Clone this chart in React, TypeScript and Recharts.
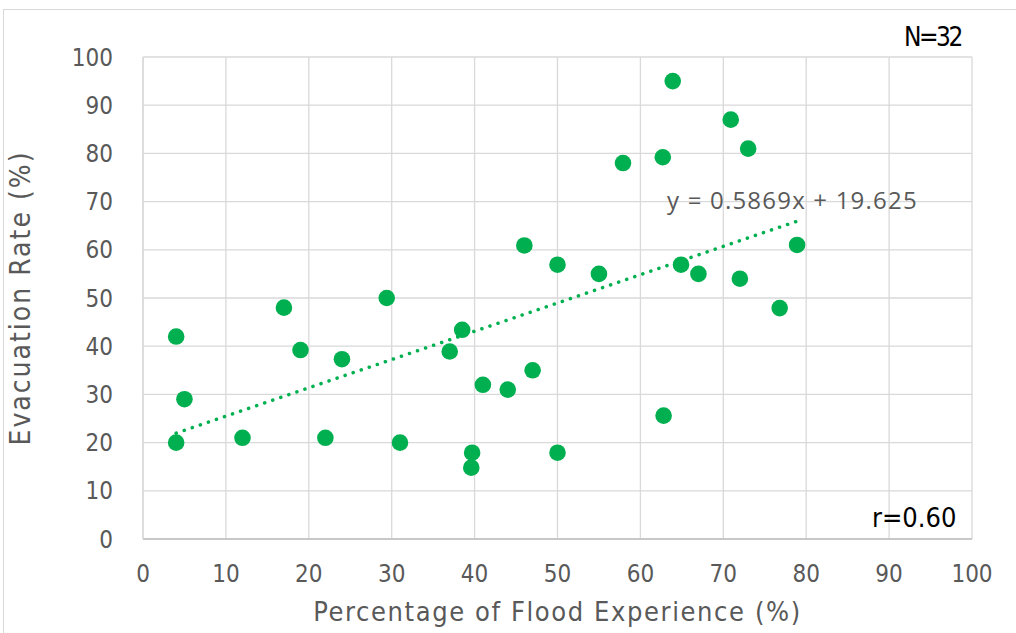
import { ReferenceLine, Scatter, ScatterChart, CartesianGrid, XAxis, YAxis } from "recharts"

// flood experience (%) vs evacuation rate (%) for each of the 32 areas
const floodExperience = [
  4, 5, 4, 12, 17, 19, 24, 22, 29.4, 31, 37, 38.5, 39.7, 39.6, 41, 44,
  47, 46, 50, 50, 55, 57.9, 62.7, 63.9, 62.8, 64.9, 67, 70.9, 72, 73, 76.8, 78.9,
]
const evacuationRate = [
  42, 29, 20, 21, 48, 39.2, 37.3, 21, 50, 20, 38.9, 43.4, 17.9, 14.8, 32, 31,
  35, 60.9, 56.9, 17.9, 55, 78, 79.2, 95, 25.6, 56.9, 55, 87, 54, 81, 47.9, 61,
]
const ticks = [0, 10, 20, 30, 40, 50, 60, 70, 80, 90, 100]

// trendline as reported on the chart
const slope = 0.5869
const intercept = 19.625
const trendRange = [4, 79]

const points = floodExperience.map((x, i) => ({ x, y: evacuationRate[i] }))
const trend = trendRange.map((x) => ({ x, y: slope * x + intercept }))

const green = "#00b050"
const textGray = "#595959"
const thinFont = "'DejaVu Sans Condensed', 'Roboto', sans-serif"

function Dot(props: any) {
  const { cx, cy } = props
  if (cx == null || cy == null) return null
  return <circle cx={cx} cy={cy} r={8.3} fill={green} />
}

export default function App() {
  return (
    <div style={{ position: "absolute", left: 0, top: 0, width: 1016, height: 633, background: "#fff", overflow: "hidden" }}>
      <div style={{ position: "absolute", left: 3, top: 9, width: 1030, height: 640, border: "1px solid #d9d9d9" }} />
      <ScatterChart
        width={1016}
        height={633}
        margin={{ top: 57, right: 44, left: 0, bottom: 0 }}
        style={{ position: "absolute", left: 0, top: 0 }}
      >
        <CartesianGrid stroke="#d9d9d9" strokeWidth={1.3} />
        <XAxis
          type="number"
          dataKey="x"
          domain={[0, 100]}
          ticks={ticks}
          height={94}
          tickLine={false}
          tickSize={0}
          tickMargin={26}
          axisLine={{ stroke: "#bfbfbf", strokeWidth: 1.5 }}
          tick={{ fill: textGray, fontSize: 24, fontFamily: thinFont }}
          label={{
            value: "Percentage of Flood Experience (%)",
            position: "insideBottom",
            offset: 12,
            fill: textGray,
            fontSize: 27,
            fontFamily: thinFont,
            letterSpacing: 1.6,
          }}
        />
        <YAxis
          type="number"
          dataKey="y"
          domain={[0, 100]}
          ticks={ticks}
          width={143}
          tickLine={false}
          tickSize={0}
          tickMargin={30}
          axisLine={{ stroke: "#d9d9d9", strokeWidth: 1.3 }}
          tick={{ fill: textGray, fontSize: 24, fontFamily: thinFont }}
          label={{
            value: "Evacuation Rate (%)",
            angle: -90,
            position: "insideLeft",
            offset: 20,
            fill: textGray,
            fontSize: 28,
            fontFamily: thinFont,
            letterSpacing: 2,
            style: { textAnchor: "middle" },
          }}
        />
        <ReferenceLine
          segment={trend}
          stroke={green}
          strokeWidth={3.5}
          strokeDasharray="0.1 8.4"
          strokeLinecap="round"
        />
        <Scatter data={points} fill={green} shape={<Dot />} isAnimationActive={false} />
      </ScatterChart>
      <div style={{ position: "absolute", left: 667, top: 183, fontSize: 24, letterSpacing: 1.2, color: textGray, fontFamily: "'Open Sans', 'Noto Sans', sans-serif", whiteSpace: "nowrap" }}>
        y = 0.5869x + 19.625
      </div>
      <div style={{ position: "absolute", left: 904, top: 22, fontSize: 26, letterSpacing: -2.5, color: "#000", fontFamily: thinFont }}>
        N=32
      </div>
      <div style={{ position: "absolute", left: 872, top: 502, fontSize: 27, color: "#000", fontFamily: thinFont }}>
        r=0.60
      </div>
    </div>
  )
}
